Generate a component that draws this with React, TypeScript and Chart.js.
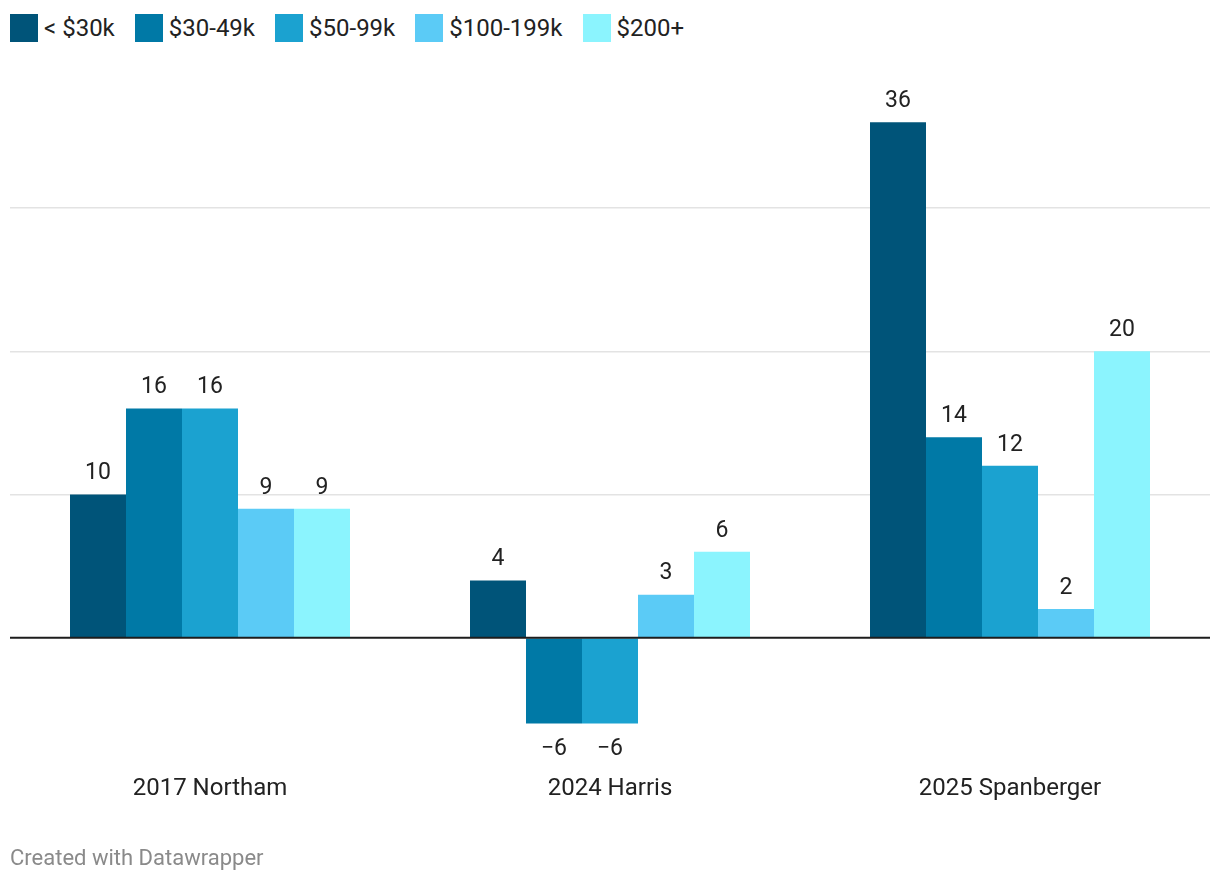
import React, { useEffect, useRef } from "react";
import { Chart, registerables } from "chart.js";

Chart.register(...registerables);

const categories = ["2017 Northam", "2024 Harris", "2025 Spanberger"];
const seriesNames = ["< $30k", "$30-49k", "$50-99k", "$100-199k", "$200+"];
const under30k = [10, 4, 36];
const k30to49 = [16, -6, 14];
const k50to99 = [16, -6, 12];
const k100to199 = [9, 3, 2];
const k200plus = [9, 6, 20];
const seriesValues = [under30k, k30to49, k50to99, k100to199, k200plus];
const colors = ["#005479", "#0079a6", "#1ba2d0", "#5bcbf6", "#8bf4fe"];
const gridTicks = [0, 10, 20, 30];

const FONT = "Roboto, 'Noto Sans', sans-serif";

const labelPlugin = {
  id: "valueLabels",
  afterDatasetsDraw(chart: any) {
    const ctx = chart.ctx;
    const yScale = chart.scales.y;
    const area = chart.chartArea;
    const y0 = yScale.getPixelForValue(0);
    ctx.save();
    ctx.strokeStyle = "#1d1d1d";
    ctx.lineWidth = 2;
    ctx.beginPath();
    ctx.moveTo(area.left, y0);
    ctx.lineTo(area.right, y0);
    ctx.stroke();
    ctx.font = `23px ${FONT}`;
    ctx.fillStyle = "#222";
    ctx.textAlign = "center";
    ctx.textBaseline = "middle";
    chart.data.datasets.forEach((ds: any, i: number) => {
      const meta = chart.getDatasetMeta(i);
      meta.data.forEach((el: any, j: number) => {
        const v = ds.data[j];
        const txt = v < 0 ? "\u2212" + Math.abs(v) : String(v);
        const y = v < 0 ? el.y + 26 : el.y - 21;
        ctx.fillText(txt, el.x, y);
      });
    });
    ctx.restore();
  },
};

export default function App() {
  const ref = useRef<HTMLCanvasElement>(null);
  useEffect(() => {
    if (!ref.current) return;
    const chart = new Chart(ref.current, {
      type: "bar",
      data: {
        labels: categories,
        datasets: seriesNames.map((name, i) => ({
          label: name,
          data: seriesValues[i],
          backgroundColor: colors[i],
          borderWidth: 0,
          barPercentage: 1,
          categoryPercentage: 0.7,
        })),
      },
      options: {
        animation: false,
        responsive: false,
        maintainAspectRatio: false,
        layout: { padding: { left: 10, right: 10, top: 65, bottom: 65 } },
        plugins: { legend: { display: false }, tooltip: { enabled: false } },
        scales: {
          x: {
            grid: { display: false },
            border: { display: false },
            ticks: {
              font: { family: FONT, size: 24 },
              color: "#222",
              padding: 14,
              maxRotation: 0,
            },
          },
          y: {
            min: -8,
            max: 40,
            border: { display: false },
            afterBuildTicks: (scale: any) => {
              scale.ticks = gridTicks.map((v) => ({ value: v }));
            },
            grid: {
              drawTicks: false,
              color: (c: any) => (c.tick && c.tick.value === 0 ? "rgba(0,0,0,0)" : "#e3e3e3"),
              lineWidth: 1.5,
            },
            ticks: { display: false },
          },
        },
      },
      plugins: [labelPlugin],
    });
    return () => chart.destroy();
  }, []);

  return (
    <div style={{ position: "fixed", left: 0, top: 0, width: 1220, height: 882, background: "#fff", fontFamily: FONT }}>
      <div style={{ position: "absolute", left: 10, top: 14, display: "flex", alignItems: "center" }}>
        {seriesNames.map((n, i) => (
          <div key={n} style={{ display: "flex", alignItems: "center", marginRight: 20 }}>
            <div style={{ width: 28, height: 28, background: colors[i], marginRight: 6 }} />
            <span style={{ fontSize: 24, color: "#222" }}>{n}</span>
          </div>
        ))}
      </div>
      <canvas ref={ref} width={1220} height={882} style={{ position: "absolute", left: 0, top: 0, width: 1220, height: 882 }} />
      <div style={{ position: "absolute", left: 10, top: 845, fontSize: 22, color: "#8a8a8a" }}>Created with Datawrapper</div>
    </div>
  );
}
